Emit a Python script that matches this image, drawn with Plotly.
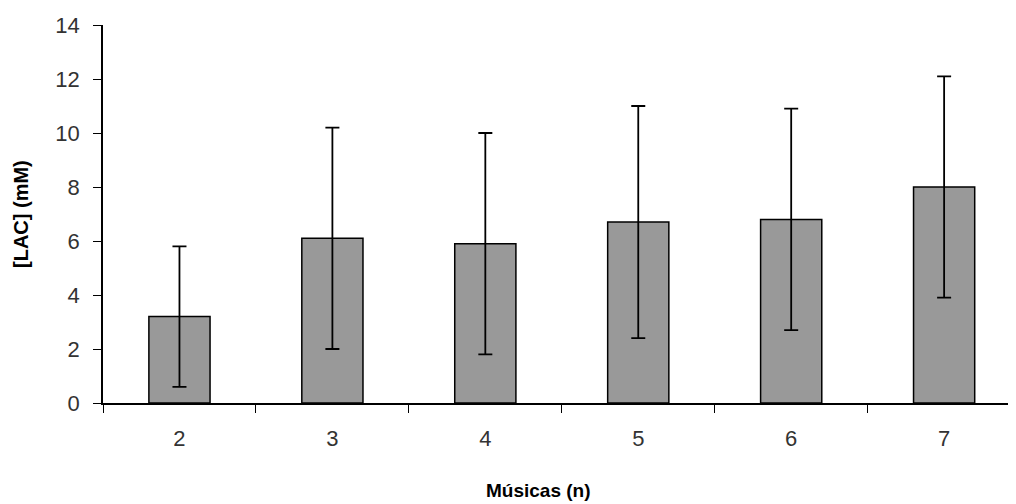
import plotly.graph_objects as go

categories = ["2", "3", "4", "5", "6", "7"]
means = [3.2, 6.1, 5.9, 6.7, 6.8, 8.0]
sds = [2.6, 4.1, 4.1, 4.3, 4.1, 4.1]
y_ticks = [0, 2, 4, 6, 8, 10, 12, 14]

TICK_FONT = dict(family="Liberation Sans, Arial, sans-serif", size=22, color="#333333")

# plot area in figure pixels (page has an 8px body margin)
L, T, R, B = 95, 17, 1008, 395
PW, PH = R - L, B - T

fig = go.Figure()
fig.add_trace(go.Bar(
    x=categories, y=means, width=0.4,
    marker=dict(color="#999999", line=dict(color="#000000", width=1.5)),
    error_y=dict(type="data", array=sds, visible=True, color="#000000",
                 thickness=1.8, width=7),
))

fig.update_layout(
    width=1016, height=504,
    margin=dict(l=L, r=1016 - R, t=T, b=504 - B),
    paper_bgcolor="white", plot_bgcolor="white",
    showlegend=False,
    font=dict(family="Liberation Sans, Arial, sans-serif", color="#333333"),
    xaxis=dict(
        type="category", range=[-0.5, 5.47], automargin=False,
        showline=True, linecolor="#000000", linewidth=1.5,
        ticks="outside", tickson="boundaries", ticklen=8, tickcolor="#000000",
        tickfont=TICK_FONT, ticklabelstandoff=15,
        showgrid=False, zeroline=False,
    ),
    yaxis=dict(
        range=[0, 14], tickvals=y_ticks, automargin=False,
        showline=True, linecolor="#000000", linewidth=1.5,
        ticks="outside", ticklen=8, tickcolor="#000000",
        tickfont=TICK_FONT, ticklabelstandoff=9,
        showgrid=False, zeroline=False,
    ),
    annotations=[
        dict(text="<b>Músicas (n)</b>", xref="paper", yref="paper",
             x=(530 - L) / PW, y=-(482 - B) / PH,
             xanchor="center", yanchor="middle",
             showarrow=False, font=dict(size=19, color="#000000")),
        dict(text="<b>[LAC] (mM)</b>", xref="paper", yref="paper",
             x=-(L - 13) / PW, y=0.5, xanchor="center", yanchor="middle",
             textangle=-90,
             showarrow=False, font=dict(size=20, color="#000000")),
    ],
)

fig.write_html("out.html")
